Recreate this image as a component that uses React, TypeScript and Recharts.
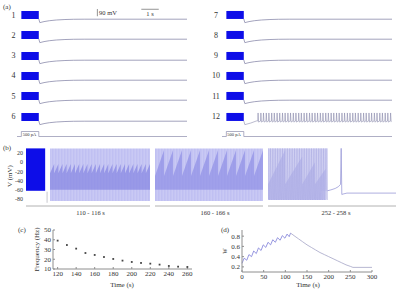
import React from 'react';
import {
  LineChart, Line, ComposedChart, Area, ScatterChart, Scatter,
  XAxis, YAxis, ReferenceArea, ReferenceLine,
} from 'recharts';

const FONT = '"Liberation Serif", "DejaVu Serif", serif';
const INK = '#333';
const FRAME = '#8e8e8e';
const BLUE = '#0d0de8';
const TRACE = '#8c8cac';
const PALE = '#dedef8';
const LAVENDER = '#cbcbf4';
const STRIPE = '#b8b8f0';

// (a) twelve runs of the 1 s, 500 pA current step
const runLabelsLeft = ['1', '2', '3', '4', '5', '6'];
const runLabelsRight = ['7', '8', '9', '10', '11', '12'];
const stepWindow = [0, 1]; // s
const burstBand = [-62, 38]; // mV, spikes too dense to resolve
const recoveryT = [1, 1.06, 1.3, 1.6, 2.0, 2.5, 3.0, 3.6, 9.5];
const recoveryV = [-62, -108, -95, -84, -75, -69, -66, -65, -65];
const run12RampT = [1, 1.06, 1.4, 1.72];
const run12RampV = [-62, -108, -88, -62];
const run12Spikes = [
  1.8, 1.96, 2.11, 2.27, 2.42, 2.58, 2.73, 2.89, 3.04, 3.2, 3.35, 3.51, 3.66,
  3.82, 3.97, 4.13, 4.28, 4.44, 4.59, 4.75, 4.9, 5.06, 5.21, 5.37, 5.52, 5.68,
  5.83, 5.99, 6.14, 6.3, 6.45, 6.61, 6.76, 6.92, 7.07, 7.23, 7.38, 7.54, 7.69,
  7.85, 8.0, 8.16, 8.31, 8.47, 8.62, 8.78, 8.93, 9.09, 9.24, 9.4,
];
const spikeOffsets = [0, 0.02, 0.05]; // s after spike onset
const run12SpikeV = [-62, 38, -76];
const stepT = [-0.25, 0, 0, 1, 1, 9.5];
const stepI = [0, 0, 500, 500, 0, 0];

// (b) membrane potential, four windows
const vTicks = [20, 0, -20, -40, -60, -80];
const earlyEnvelope = [[0, -62, 30], [1, -62, 30]]; // t, low, high
const earlyTail = [[1.1, -64], [1.1, -88]];
const seg2Envelope = [[110, -84, 30], [116, -84, 30]];
const seg2Drops = [
  110.25, 110.5, 110.75, 111, 111.25, 111.5, 111.75, 112, 112.25, 112.5, 112.75, 113,
  113.25, 113.5, 113.75, 114, 114.25, 114.5, 114.75, 115, 115.25, 115.5, 115.75, 116,
];
const seg2Tooth = [-60, -24, -4]; // floor, start, peak
const seg3Envelope = [[160, -84, 30], [166, -84, 30]];
const seg3Drops = [160.5, 161, 161.5, 162, 162.5, 163, 163.5, 164, 164.5, 165, 165.5, 166];
const seg3Tooth = [-60, -30, 26];
const seg4Envelope = [[252, -82, 30], [254.5, -82, 30], [254.5, -62, 30], [254.78, -62, 30]];
const seg4Drops = [252.8, 253.6, 254.2, 254.7];
const seg4Peaks = [26, 12, 0, -14];
const seg4Tooth = [-82, -48];
const seg4Spikes = [
  252.02, 252.1, 252.18, 252.26, 252.34, 252.42, 252.5, 252.58, 252.66, 252.74,
  252.82, 252.9, 252.98, 253.06, 253.14, 253.22, 253.3, 253.38, 253.46, 253.54,
  253.62, 253.7, 253.78, 253.86, 253.94, 254.02, 254.1, 254.18, 254.26, 254.34,
  254.42, 254.5, 254.58, 254.66, 254.74,
];
const seg4SpikeV = [-80, 30, -82];
const seg4TailT = [254.78, 254.95, 255.15, 255.3, 255.4, 255.43, 255.46, 255.52, 255.7, 258];
const seg4TailV = [-62, -60, -57, -53, -48, 30, -70, -69, -67, -67];

// (c) firing frequency
const freqT = [120, 130, 140, 150, 160, 170, 180, 190, 200, 210, 220, 230, 240, 250, 260];
const freqHz = [39.1, 34.6, 30.9, 26.4, 24.4, 22.3, 20.3, 18.6, 17.2, 16.2, 15.5, 14.5, 13.1, 12.4, 12.1];
const freqTimeTicks = [120, 140, 160, 180, 200, 220, 240, 260];
const freqTicks = [10, 20, 30, 40, 50];

// (d) adaptation variable w
const wRiseT = [0, 5, 11, 16, 22, 27, 33, 38, 44, 49, 55, 60, 66, 71, 77, 82, 88, 93, 99, 104, 109, 112];
const wRise = [0.27, 0.37, 0.33, 0.44, 0.4, 0.51, 0.46, 0.57, 0.52, 0.63, 0.58, 0.68, 0.63, 0.73, 0.68, 0.77, 0.72, 0.81, 0.76, 0.84, 0.79, 0.86];
const wDecayT = [112, 120, 130, 140, 150, 160, 170, 180, 190, 200, 210, 220, 230, 240, 250, 256, 270, 300];
const wDecay = [0.86, 0.81, 0.75, 0.69, 0.63, 0.58, 0.53, 0.48, 0.44, 0.4, 0.36, 0.32, 0.28, 0.24, 0.21, 0.19, 0.19, 0.19];
const wTimeTicks = [0, 50, 100, 150, 200, 250, 300];
const wTicks = [0.2, 0.4, 0.6, 0.8];

const zero = { top: 0, right: 0, bottom: 0, left: 0 };

// free-standing labels, drawn in one svg layer on top of the charts
function Txt({ x, y, size = 8, anchor = 'middle', rotate = 0, children }: any) {
  return (
    <text
      x={x} y={y} fontSize={size} textAnchor={anchor} dominantBaseline="central"
      fill={INK} fontFamily={FONT}
      transform={rotate ? `rotate(${rotate} ${x} ${y})` : undefined}
    >
      {children}
    </text>
  );
}

const ROW_W = 170;
const ROW_H = 24;
const T_DOMAIN = [-0.25, 9.5];
const V_DOMAIN = [-225, 75];

function runTrace(tonic: boolean) {
  if (!tonic) return recoveryT.map((t, i) => ({ t, v: recoveryV[i] }));
  const pts = run12RampT.map((t, i) => ({ t, v: run12RampV[i] }));
  run12Spikes.forEach((s) => {
    spikeOffsets.forEach((o, k) => pts.push({ t: s + o, v: run12SpikeV[k] }));
  });
  return pts;
}

function RunRow({ left, top, tonic = false, scaleBars = false }: any) {
  return (
    <div style={{ position: 'absolute', left, top }}>
      <LineChart width={ROW_W} height={ROW_H} data={runTrace(tonic)} margin={zero}>
        <XAxis dataKey="t" type="number" domain={T_DOMAIN} hide />
        <YAxis type="number" domain={V_DOMAIN} hide />
        <ReferenceArea
          x1={stepWindow[0]} x2={stepWindow[1]} y1={burstBand[0]} y2={burstBand[1]}
          fill={BLUE} fillOpacity={1} stroke="none"
        />
        {scaleBars && (
          <ReferenceLine segment={[{ x: 4.36, y: 62 }, { x: 4.36, y: -28 }]} stroke="#666" strokeWidth={0.7} ifOverflow="visible" />
        )}
        {scaleBars && (
          <ReferenceLine segment={[{ x: 6.88, y: 59 }, { x: 7.88, y: 59 }]} stroke="#666" strokeWidth={0.7} ifOverflow="visible" />
        )}
        <Line dataKey="v" stroke={TRACE} strokeWidth={tonic ? 0.6 : 0.8} dot={false} isAnimationActive={false} />
      </LineChart>
    </div>
  );
}

function StepRow({ left, top }: any) {
  const data = stepT.map((t, i) => ({ t, i: stepI[i] }));
  return (
    <div style={{ position: 'absolute', left, top }}>
      <LineChart width={ROW_W} height={10} data={data} margin={zero}>
        <XAxis dataKey="t" type="number" domain={T_DOMAIN} hide />
        <YAxis type="number" domain={[-250, 750]} hide />
        <Line dataKey="i" stroke={TRACE} strokeWidth={0.7} dot={false} isAnimationActive={false} />
      </LineChart>
    </div>
  );
}

const envData = (rows: number[][]) => rows.map(([t, lo, hi]) => ({ t, band: [lo, hi] }));

function sawtooth(start: number, drops: number[], floor: number, low: number, peaks: number[]) {
  const pts = [{ t: start, band: [floor, low] }];
  drops.forEach((d, i) => {
    pts.push({ t: d, band: [floor, peaks[i]] }, { t: d, band: [floor, low] });
  });
  return pts;
}

function spikeTrain(times: number[], v: number[]) {
  const pts: any[] = [];
  times.forEach((s) => spikeOffsets.forEach((o, k) => pts.push({ t: s + o, v: v[k] })));
  return pts;
}

const V_AXIS_DOMAIN = [-95, 33];

function Segment({ left, plotW, yAxisW = 0, domain, envelope, envFill, teeth, teethFill, teethOpacity = 0.7, lines = [], label, labelDx = 0 }: any) {
  return (
    <div style={{ position: 'absolute', left, top: 140 }}>
      <ComposedChart width={plotW + yAxisW} height={76} margin={{ top: 7, right: 0, bottom: 0, left: 0 }}>
        <defs>
          <pattern id="spikeStripes" width="1.5" height="4" patternUnits="userSpaceOnUse">
            <rect width="1.5" height="4" fill={LAVENDER} />
            <rect width="0.5" height="4" fill={STRIPE} />
          </pattern>
        </defs>
        <XAxis
          dataKey="t" type="number" domain={domain} allowDataOverflow
          tick={false} tickLine={false} axisLine={{ stroke: '#a0a0a0', strokeWidth: 0.8 }} height={10}
          label={label ? { value: label, position: 'insideBottom', offset: 1, dx: labelDx, fontSize: 6.5, fill: INK, fontFamily: FONT } : undefined}
        />
        <YAxis
          type="number" domain={V_AXIS_DOMAIN} ticks={vTicks} interval={0} hide={!yAxisW} width={yAxisW}
          axisLine={false} tickLine={false} tickSize={0} tickMargin={3}
          tick={{ fontSize: 6, fill: INK, fontFamily: FONT }}
        />
        <Area data={envData(envelope)} dataKey="band" fill={envFill} fillOpacity={1} stroke="none" isAnimationActive={false} />
        {teeth && (
          <Area data={teeth} dataKey="band" fill={teethFill} fillOpacity={teethOpacity} stroke="none" isAnimationActive={false} />
        )}
        {lines.map((ln: any, i: number) => (
          <Line key={i} data={ln.data} dataKey="v" stroke={ln.color} strokeWidth={ln.w ?? 0.6} dot={false} isAnimationActive={false} />
        ))}
      </ComposedChart>
    </div>
  );
}

const tickFont = { fontSize: 7, fill: INK, fontFamily: FONT };

function FreqPanel() {
  const data = freqT.map((t, i) => ({ t, f: freqHz[i] }));
  const square = (p: any) => <rect x={p.cx - 0.9} y={p.cy - 0.9} width={1.8} height={1.8} fill="#444" />;
  return (
    <div style={{ position: 'absolute', left: 28, top: 222 }}>
      <ScatterChart width={169} height={67} margin={{ top: 8, right: 5, bottom: 0, left: 0 }}>
        <XAxis
          dataKey="t" type="number" domain={[115, 265]} ticks={freqTimeTicks} interval={0} stroke={FRAME}
          tickSize={-2} tickMargin={4} tick={tickFont} height={20}
        />
        <XAxis xAxisId="top" orientation="top" type="number" domain={[115, 265]} ticks={freqTimeTicks} interval={0} stroke={FRAME} tickSize={-2} tick={false} height={0} />
        <YAxis
          dataKey="f" type="number" domain={[10, 50]} ticks={freqTicks} interval={0} stroke={FRAME}
          tickSize={-2} tickMargin={4} tick={tickFont} width={25}
        />
        <YAxis yAxisId="right" orientation="right" type="number" domain={[10, 50]} ticks={freqTicks} interval={0} stroke={FRAME} tickSize={-2} tick={false} width={0} />
        <Scatter data={data} dataKey="f" shape={square} isAnimationActive={false} />
      </ScatterChart>
    </div>
  );
}

function WPanel() {
  const rise = wRiseT.map((t, i) => ({ t, w: wRise[i] }));
  const decay = wDecayT.map((t, i) => ({ t, w: wDecay[i] }));
  return (
    <div style={{ position: 'absolute', left: 215, top: 222 }}>
      <LineChart width={165} height={70} margin={{ top: 8, right: 8, bottom: 0, left: 0 }}>
        <XAxis
          dataKey="t" type="number" domain={[0, 300]} ticks={wTimeTicks} interval={0} stroke={FRAME}
          tickSize={-2} tickMargin={4} tick={tickFont} height={20}
        />
        <XAxis xAxisId="top" orientation="top" type="number" domain={[0, 300]} ticks={wTimeTicks} interval={0} stroke={FRAME} tickSize={-2} tick={false} height={0} />
        <YAxis
          type="number" domain={[0.1, 0.92]} ticks={wTicks} interval={0} stroke={FRAME}
          tickSize={-2} tickMargin={4} tick={tickFont} width={27}
        />
        <YAxis yAxisId="right" orientation="right" type="number" domain={[0.1, 0.92]} ticks={wTicks} interval={0} stroke={FRAME} tickSize={-2} tick={false} width={0} />
        <Line data={rise} dataKey="w" stroke="#7c7cd8" strokeWidth={0.8} dot={false} isAnimationActive={false} />
        <Line data={decay} dataKey="w" stroke="#a4a4c6" strokeWidth={0.8} dot={false} isAnimationActive={false} />
      </LineChart>
    </div>
  );
}

const ROW_TOPS = [8, 28.3, 48.6, 68.9, 89.2, 109.5];

export default function App() {
  return (
    <div
      style={{
        position: 'absolute', left: 0, top: 0, width: 397, height: 293,
        background: '#fff', fontFamily: FONT, overflow: 'hidden',
      }}
    >
      {ROW_TOPS.map((top, i) => (
        <RunRow key={`l${i}`} left={16.6} top={top} scaleBars={i === 0} />
      ))}
      {ROW_TOPS.map((top, i) => (
        <RunRow key={`r${i}`} left={221.6} top={top} tonic={i === 5} />
      ))}
      <StepRow left={16.6} top={129} />
      <StepRow left={221.6} top={129} />

      <Segment
        left={0} plotW={23} yAxisW={26} domain={[0, 1.2]}
        envelope={earlyEnvelope} envFill={BLUE}
        lines={[{ data: earlyTail.map(([t, v]) => ({ t, v })), color: '#b0b0b8', w: 0.7 }]}
      />
      <Segment
        left={49} plotW={101} domain={[109.94, 116]}
        envelope={seg2Envelope} envFill="url(#spikeStripes)"
        teeth={sawtooth(110, seg2Drops, seg2Tooth[0], seg2Tooth[1], seg2Drops.map(() => seg2Tooth[2]))}
        teethFill="#8080e0" teethOpacity={0.65}
        label="110 - 116 s" labelDx={-9}
      />
      <Segment
        left={155} plotW={108} domain={[160, 166]}
        envelope={seg3Envelope} envFill="url(#spikeStripes)"
        teeth={sawtooth(160, seg3Drops, seg3Tooth[0], seg3Tooth[1], seg3Drops.map(() => seg3Tooth[2]))}
        teethFill="#8e8ee6" teethOpacity={0.7}
        label="160 - 166 s" labelDx={6}
      />
      <Segment
        left={268} plotW={128} domain={[252, 258]}
        envelope={seg4Envelope} envFill={PALE}
        teeth={sawtooth(252, seg4Drops, seg4Tooth[0], seg4Tooth[1], seg4Peaks)}
        teethFill="#b4b4ec" teethOpacity={0.75}
        lines={[
          { data: spikeTrain(seg4Spikes, seg4SpikeV), color: '#a8a8e0', w: 0.5 },
          { data: seg4TailT.map((t, i) => ({ t, v: seg4TailV[i] })), color: '#9a9ad8', w: 0.8 },
        ]}
        label="252 - 258 s" labelDx={4}
      />

      <FreqPanel />
      <WPanel />

      <svg width={397} height={293} style={{ position: 'absolute', left: 0, top: 0, pointerEvents: 'none' }}>
        <Txt x={3} y={7} size={7} anchor="start">(a)</Txt>
        {runLabelsLeft.map((lab, i) => (
          <Txt key={lab} x={13.5} y={ROW_TOPS[i] + 7} size={8}>{lab}</Txt>
        ))}
        {runLabelsRight.map((lab, i) => (
          <Txt key={lab} x={216} y={ROW_TOPS[i] + 7} size={8}>{lab}</Txt>
        ))}
        <Txt x={29.5} y={134} size={4.5}>500 pA</Txt>
        <Txt x={234} y={134} size={4.5}>500 pA</Txt>
        <Txt x={99} y={12.5} size={6.5} anchor="start">90 mV</Txt>
        <Txt x={150} y={13.5} size={6.5}>1 s</Txt>

        <Txt x={3} y={148} size={7} anchor="start">(b)</Txt>
        <Txt x={9.5} y={176} size={7} rotate={-90}>V (mV)</Txt>

        <Txt x={18} y={230} size={7} anchor="start">(c)</Txt>
        <Txt x={37} y={249.5} size={7} rotate={-90}>Frequency (Hz)</Txt>
        <Txt x={122} y={285} size={7}>Time (s)</Txt>
        <Txt x={221} y={230} size={7} anchor="start">(d)</Txt>
        <Txt x={224} y={251} size={7.5} rotate={-90}>w</Txt>
        <Txt x={308} y={285} size={7}>Time (s)</Txt>
      </svg>
    </div>
  );
}
